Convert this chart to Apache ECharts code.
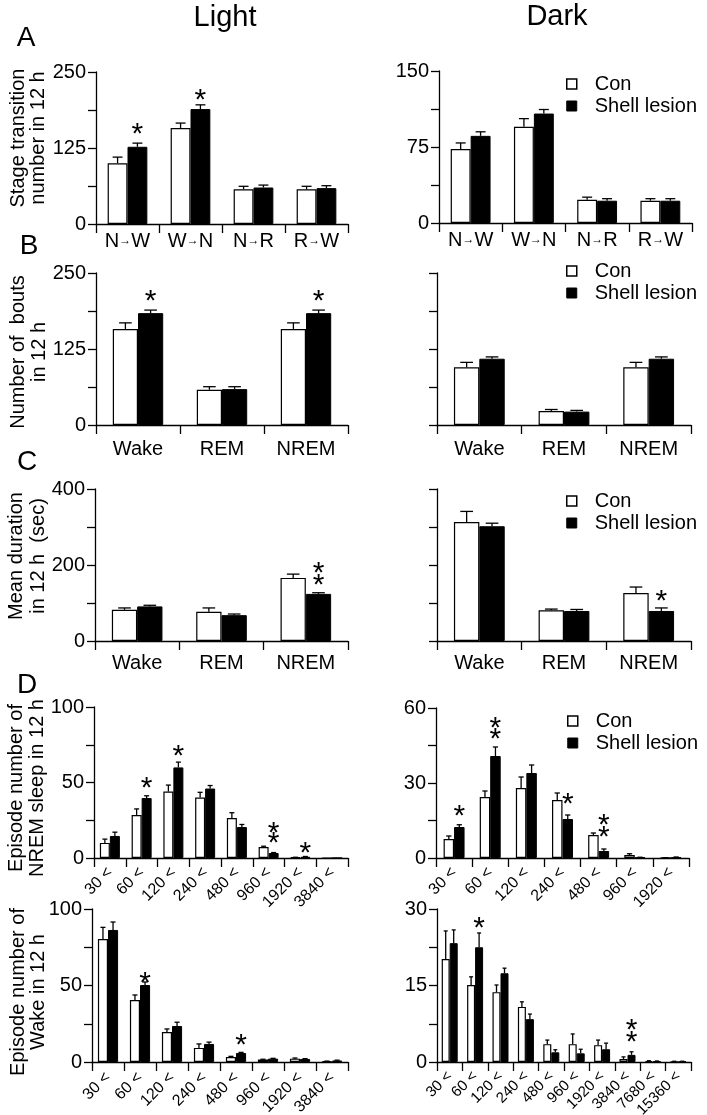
<!DOCTYPE html>
<html><head><meta charset="utf-8">
<script src="https://cdn.jsdelivr.net/npm/echarts@6/dist/echarts.min.js"></script>
<style>html,body{margin:0;padding:0;background:#fff}#c{width:707px;height:1115px}</style>
</head><body><div id="c"></div>
<script>
const FONT = '"Liberation Sans", Arial, Helvetica, sans-serif';

// ---- Panel A: stage transition number in 12 h ----
const transCats = ['N→W', 'W→N', 'N→R', 'R→W'];
const transLightCon = [100, 158, 57, 57];
const transLightConSem = [10, 8, 5, 5];
const transLightShell = [127, 189, 60, 59];
const transLightShellSem = [6, 7, 4, 4];
const transDarkCon = [73, 95, 23, 22];
const transDarkConSem = [6, 8, 2.5, 2];
const transDarkShell = [86, 108, 22, 22];
const transDarkShellSem = [4, 4, 2, 2];

// ---- Panel B: number of bouts in 12 h ----
const stageCats = ['Wake', 'REM', 'NREM'];
const boutsLightCon = [158, 58, 158];
const boutsLightConSem = [10, 5, 10];
const boutsLightShell = [184, 59, 184];
const boutsLightShellSem = [5, 4, 5];
const boutsDarkCon = [95, 23, 95];
const boutsDarkConSem = [8, 2.5, 8];
const boutsDarkShell = [109, 22, 109];
const boutsDarkShellSem = [3, 2, 3];

// ---- Panel C: mean duration in 12 h (sec) ----
const durLightCon = [82, 77, 166];
const durLightConSem = [5, 10, 10];
const durLightShell = [91, 68, 124];
const durLightShellSem = [3, 3, 3];
const durDarkCon = [313, 81, 126];
const durDarkConSem = [28, 3, 16];
const durDarkShell = [302, 79, 79];
const durDarkShellSem = [8, 4, 8];

// ---- Panel D: episode number of NREM sleep in 12 h ----
const nremLightCats = ['30 <', '60 <', '120 <', '240 <', '480 <', '960 <', '1920 <', '3840 <'];
const nremLightCon = [10, 28.5, 44, 40, 26.5, 7.3, 0.4, 0];
const nremLightConSem = [2.5, 4, 4.3, 3.5, 3.5, 0.5, 0.1, 0];
const nremLightShell = [14.6, 39.7, 60, 46, 20.5, 3.3, 0.8, 0];
const nremLightShellSem = [2.5, 1.5, 3.5, 2, 1.7, 0.3, 0.2, 0];
const nremDarkCats = ['30 <', '60 <', '120 <', '240 <', '480 <', '960 <', '1920 <'];
const nremDarkCon = [7.6, 24.4, 28, 23.2, 9.2, 1.2, 0.1];
const nremDarkConSem = [1.2, 2.4, 4.4, 2.8, 0.8, 0.5, 0.05];
const nremDarkShell = [12.4, 40.8, 34, 15.6, 2.8, 0.2, 0.3];
const nremDarkShellSem = [0.9, 3.6, 3.2, 1.6, 0.8, 0.1, 0.1];

// ---- Panel D: episode number of Wake in 12 h ----
const wakeLightCats = ['30 <', '60 <', '120 <', '240 <', '480 <', '960 <', '1920 <', '3840 <'];
const wakeLightCon = [80.4, 40.5, 19.6, 9.2, 3.3, 1.6, 2.2, 0.5];
const wakeLightConSem = [7.6, 3.3, 2, 2.6, 0.4, 0.2, 0.4, 0.1];
const wakeLightShell = [86.3, 50.3, 23.5, 11.8, 5.9, 2.2, 2.0, 1.0];
const wakeLightShellSem = [5.2, 2, 2.5, 1.2, 0.4, 0.2, 0.2, 0.2];
const wakeDarkCats = ['30 <', '60 <', '120 <', '240 <', '480 <', '960 <', '1920 <', '3840 <', '7680 <', '15360 <'];
const wakeDarkCon = [20.2, 15.1, 13.7, 10.8, 3.5, 3.5, 3.3, 0.6, 0.2, 0.1];
const wakeDarkConSem = [5.5, 1.6, 1.4, 1.0, 0.8, 2.0, 1.0, 0.4, 0.05, 0.05];
const wakeDarkShell = [23.3, 22.5, 17.4, 8.4, 1.9, 1.7, 2.5, 1.4, 0.15, 0.1];
const wakeDarkShellSem = [2.6, 2.8, 1.0, 1.0, 0.5, 0.8, 1.2, 0.6, 0.05, 0.05];

// ---- significance stars: [category index, side (0 Con, 1 Shell), value at star centre] ----
const starsTransLight = [[0, 1, 158], [1, 1, 215]];
const starsTransDark = [];
const starsBoutsLight = [[0, 1, 215], [2, 1, 215]];
const starsBoutsDark = [];
const starsDurLight = [[2, 1, 195], [2, 1, 163]];
const starsDurDark = [[2, 1, 121]];
const starsNremLight = [[1, 1, 50.3], [2, 1, 71.5], [5, 1, 20.5], [5, 1, 13.9], [6, 1, 7.3]];
const starsNremDark = [[0, 1, 19.2], [1, 1, 54.4], [1, 1, 50], [3, 1, 24], [4, 1, 15.6], [4, 1, 10.8]];
const starsWakeLight = [[1, 1, 55.6], [4, 1, 15]];
const starsWakeDark = [[1, 1, 27.5], [7, 1, 7.6], [7, 1, 5.1]];

const panels = [
  { g: [96, 72, 252, 152], cats: transCats, con: transLightCon, conSem: transLightConSem, sh: transLightShell, shSem: transLightShellSem, max: 250, iv: 62.5, every: 125, gap: 0.37, stars: starsTransLight, xf: 20, xm: 7, rot: 0, arrow: true },
  { g: [439, 71, 253, 152], cats: transCats, con: transDarkCon, conSem: transDarkConSem, sh: transDarkShell, shSem: transDarkShellSem, max: 150, iv: 37.5, every: 75, gap: 0.37, stars: starsTransDark, xf: 20, xm: 7, rot: 0, arrow: true },
  { g: [96, 273, 252, 152], cats: stageCats, con: boutsLightCon, conSem: boutsLightConSem, sh: boutsLightShell, shSem: boutsLightShellSem, max: 250, iv: 62.5, every: 125, gap: 0.40, stars: starsBoutsLight, xf: 20, xm: 14, rot: 0 },
  { g: [437, 273, 254, 152], cats: stageCats, con: boutsDarkCon, conSem: boutsDarkConSem, sh: boutsDarkShell, shSem: boutsDarkShellSem, max: 250, iv: 62.5, every: null, gap: 0.40, stars: starsBoutsDark, xf: 20, xm: 14, rot: 0 },
  { g: [95, 489, 253, 152], cats: stageCats, con: durLightCon, conSem: durLightConSem, sh: durLightShell, shSem: durLightShellSem, max: 400, iv: 100, every: 200, gap: 0.40, stars: starsDurLight, xf: 20, xm: 12, rot: 0 },
  { g: [437, 489, 254, 152], cats: stageCats, con: durDarkCon, conSem: durDarkConSem, sh: durDarkShell, shSem: durDarkShellSem, max: 400, iv: 100, every: null, gap: 0.40, stars: starsDurDark, xf: 20, xm: 12, rot: 0 },
  { g: [94, 707, 254, 151], cats: nremLightCats, con: nremLightCon, conSem: nremLightConSem, sh: nremLightShell, shSem: nremLightShellSem, max: 100, iv: 25, every: 50, gap: 0.37, stars: starsNremLight, xf: 16, xm: 12, rot: 45 },
  { g: [436, 708, 253, 150], cats: nremDarkCats, con: nremDarkCon, conSem: nremDarkConSem, sh: nremDarkShell, shSem: nremDarkShellSem, max: 60, iv: 15, every: 30, gap: 0.42, stars: starsNremDark, xf: 16, xm: 12, rot: 45 },
  { g: [92, 909, 256, 153], cats: wakeLightCats, con: wakeLightCon, conSem: wakeLightConSem, sh: wakeLightShell, shSem: wakeLightShellSem, max: 100, iv: 25, every: 50, gap: 0.37, stars: starsWakeLight, xf: 16, xm: 13, rot: 45 },
  { g: [437, 909, 254, 153], cats: wakeDarkCats, con: wakeDarkCon, conSem: wakeDarkConSem, sh: wakeDarkShell, shSem: wakeDarkShellSem, max: 30, iv: 7.5, every: 15, gap: 0.37, stars: starsWakeDark, xf: 15, xm: 12, rot: 45 }
];

const LW = 1.3;
const grids = [], xAxes = [], yAxes = [], series = [];

function barX(api, cat, side, gap) {
  const band = api.size([1, 0])[0];
  const bw = band * (1 - gap) / 2;
  const c = api.coord([cat, 0]);
  return { x: c[0] + (side ? bw / 2 : -bw / 2), bw: bw };
}

panels.forEach((p, i) => {
  grids.push({ left: p.g[0], top: p.g[1], width: p.g[2], height: p.g[3], containLabel: false, outerBoundsMode: 'none' });
  xAxes.push({
    type: 'category', gridIndex: i, data: p.cats,
    axisLine: { show: true, lineStyle: { color: '#000', width: LW } },
    axisTick: { show: true, alignWithLabel: false, interval: 0, length: 9, lineStyle: { color: '#000', width: LW } },
    axisLabel: {
      interval: 0, rotate: p.rot, margin: p.xm, color: '#000', fontFamily: FONT, fontSize: p.xf,
      formatter: p.arrow ? (v => v.replace('→', '{s|→}')) : (v => v),
      rich: { s: { fontSize: 12, fontFamily: FONT, color: '#000' } }
    },
    splitLine: { show: false }
  });
  yAxes.push({
    type: 'value', gridIndex: i, min: 0, max: p.max, interval: p.iv,
    axisLine: { show: true, lineStyle: { color: '#000', width: LW } },
    axisTick: { show: true, length: 8, lineStyle: { color: '#000', width: LW } },
    axisLabel: {
      show: p.every !== null, margin: 10, color: '#000', fontFamily: FONT, fontSize: 20,
      formatter: v => (p.every && Math.abs(v / p.every - Math.round(v / p.every)) < 1e-6) ? String(v) : ''
    },
    splitLine: { show: false }
  });
  const gapPct = Math.round(p.gap * 100) + '%';
  series.push({
    name: 'Con', type: 'bar', xAxisIndex: i, yAxisIndex: i, data: p.con,
    barGap: '0%', barCategoryGap: gapPct,
    itemStyle: { color: '#fff', borderColor: '#000', borderWidth: 1.2 },
    emphasis: { disabled: true }, silent: true, z: 2
  });
  series.push({
    name: 'Shell lesion', type: 'bar', xAxisIndex: i, yAxisIndex: i, data: p.sh,
    barGap: '0%', barCategoryGap: gapPct,
    itemStyle: { color: '#000', borderColor: '#000', borderWidth: 1 },
    emphasis: { disabled: true }, silent: true, z: 2
  });
  const errData = [];
  p.con.forEach((v, k) => errData.push([k, 0, v, p.conSem[k]]));
  p.sh.forEach((v, k) => errData.push([k, 1, v, p.shSem[k]]));
  series.push({
    type: 'custom', xAxisIndex: i, yAxisIndex: i, data: errData, silent: true, z: 3,
    encode: { x: 0, y: 2 },
    renderItem: (params, api) => {
      const cat = api.value(0), side = api.value(1), v = api.value(2), e = api.value(3);
      if (!(e > 0)) return null;
      const b = barX(api, cat, side, p.gap);
      const y0 = api.coord([cat, v])[1], y1 = api.coord([cat, v + e])[1];
      const cap = b.bw * 0.25;
      return {
        type: 'group', children: [
          { type: 'line', shape: { x1: b.x, y1: y0, x2: b.x, y2: y1 }, style: { stroke: '#000', lineWidth: LW } },
          { type: 'line', shape: { x1: b.x - cap, y1: y1, x2: b.x + cap, y2: y1 }, style: { stroke: '#000', lineWidth: LW } }
        ]
      };
    }
  });
  if (p.stars.length) {
    series.push({
      type: 'custom', xAxisIndex: i, yAxisIndex: i, data: p.stars, silent: true, z: 4,
      encode: { x: 0, y: 2 },
      renderItem: (params, api) => {
        const cat = api.value(0), side = api.value(1), v = api.value(2);
        const b = barX(api, cat, side, p.gap);
        const y = api.coord([cat, v])[1];
        return {
          type: 'text', x: b.x, y: y + 7,
          style: { text: '*', fontSize: 30, fontFamily: FONT, fill: '#000', align: 'center', verticalAlign: 'middle' }
        };
      }
    });
  }
});

function legendAt(left, top) {
  return {
    left: left, top: top, orient: 'vertical', itemWidth: 36, itemHeight: 10, itemGap: 2,
    icon: 'path://M0,0H10V10H0Z', symbolKeepAspect: true, selectedMode: false,
    textStyle: { fontSize: 20, lineHeight: 20, fontFamily: FONT, color: '#000' },
    data: [
      { name: 'Con', itemStyle: { color: '#fff', borderColor: '#000', borderWidth: 1.5 } },
      { name: 'Shell lesion', itemStyle: { color: '#000', borderColor: '#000', borderWidth: 1 } }
    ]
  };
}

function txt(x, y, text, size, rot, lh) {
  return {
    type: 'text', x: x, y: y, rotation: rot || 0, silent: true,
    style: { text: text, fontSize: size, fontFamily: FONT, fill: '#000', align: 'center', verticalAlign: 'middle', lineHeight: lh || size }
  };
}
const R = Math.PI / 2;
const graphics = [
  txt(225, 18, 'Light', 29), txt(557, 17, 'Dark', 29),
  txt(26, 38, 'A', 28), txt(29, 246, 'B', 28), txt(27, 462, 'C', 28), txt(27, 685, 'D', 28),
  txt(28, 138, 'Stage transition\nnumber in 12 h', 20, R, 20),
  txt(29, 352, 'Number of  bouts\nin 12 h', 20, R, 21),
  txt(27, 556, 'Mean duration\nin 12 h  (sec)', 20, R, 22),
  txt(27, 788, 'Episode number of\nNREM sleep in 12 h', 20, R, 21),
  txt(28, 992, 'Episode number of\nWake in 12 h', 20, R, 20)
];

const chart = echarts.init(document.getElementById('c'), null, { renderer: 'canvas' });
chart.setOption({
  backgroundColor: '#fff',
  animation: false,
  textStyle: { fontFamily: FONT },
  grid: grids, xAxis: xAxes, yAxis: yAxes, series: series,
  legend: [legendAt(561, 69), legendAt(561, 256), legendAt(561, 486), legendAt(562, 706)],
  graphic: graphics
});
</script></body></html>
